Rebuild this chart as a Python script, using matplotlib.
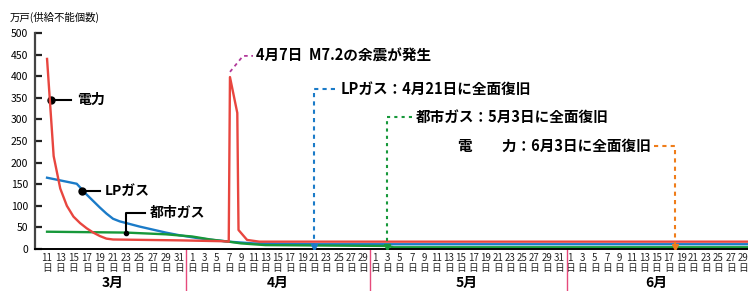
import matplotlib.pyplot as plt

plt.rcParams['font.family'] = ['Noto Sans CJK JP', 'DejaVu Sans']

# x軸: 2日おきの日付ラベル
months = [3, 4, 5, 6]
month_names = ['3月', '4月', '5月', '6月']
label_days = {
    3: list(range(11, 32, 2)),
    4: list(range(1, 30, 2)),
    5: list(range(1, 32, 2)),
    6: list(range(1, 30, 2)),
}

# 供給不能戸数（万戸） 日付は (月, 日)
power_dates = [(3, 11), (3, 12), (3, 13), (3, 14), (3, 15), (3, 16), (3, 17), (3, 18),
               (3, 19), (3, 20), (3, 21), (3, 31), (4, 6), (4, 7), (4, 7.2), (4, 8.4),
               (4, 8.6), (4, 10), (4, 12), (6, 30)]
power_vals = [440, 215, 140, 100, 75, 60, 48, 38, 30, 24, 22, 20, 18, 17, 398, 315,
              44, 21, 17, 17]

lp_dates = [(3, 11), (3, 15.5), (3, 17), (3, 19), (3, 20), (3, 21), (3, 22), (3, 23),
            (3, 25), (3, 27), (3, 29), (3, 31), (4, 2), (4, 5), (4, 7), (4, 9), (4, 11),
            (4, 21), (6, 30)]
lp_vals = [165, 151, 126, 96, 82, 70, 64, 60, 52, 45, 38, 32, 25, 20, 17, 15, 13, 11, 11]

city_dates = [(3, 11), (3, 23), (3, 29), (4, 1), (4, 4), (4, 7), (4, 9), (4, 13),
              (5, 3), (5, 4), (6, 30)]
city_vals = [40, 38, 34, 29, 22, 17, 13, 9, 7, 4, 4]

# 全面復旧の位置
lp_restore = (4, 21)
city_restore = (5, 3)
power_restore = (6, 18)

# 各月の開始位置と2日あたりの幅（元図の目盛り間隔に合わせる）
month_start = {3: 0.0, 4: 11.67, 5: 26.39, 6: 42.08}
month_step = {3: 1.062, 4: 0.983, 5: 0.987, 6: 0.994}
month_sep = [11.18, 25.99, 41.87]


def pos(date):
    m, d = date
    return month_start[m] + (d - label_days[m][0]) / 2 * month_step[m]


RED = '#e8463f'
BLUE = '#1b7bc8'
GREEN = '#17983a'
ORANGE = '#ef7d1a'
PURPLE = '#b2399b'
PINK = '#e64a7b'

fig = plt.figure(figsize=(7.48, 2.91), dpi=100)
ax = fig.add_axes([35 / 748, 42 / 291, 713 / 748, 216 / 291])

ax.plot([pos(d) for d in power_dates], power_vals, color=RED, lw=1.7, zorder=3)
ax.plot([pos(d) for d in lp_dates], lp_vals, color=BLUE, lw=1.7, zorder=2)
ax.plot([pos(d) for d in city_dates], city_vals, color=GREEN, lw=1.7, zorder=2)

ax.set_xlim(-0.97, 56.4)
ax.set_ylim(0, 500)
ax.spines['top'].set_visible(False)
ax.spines['right'].set_visible(False)
ax.spines['left'].set_color('#444444')
ax.spines['left'].set_linewidth(1.6)
ax.spines['bottom'].set_color('black')
ax.spines['bottom'].set_linewidth(1.4)

ax.set_yticks(range(0, 501, 50))
ax.tick_params(axis='y', direction='in', length=5, width=1.6, color='#222222',
               labelsize=7.5, pad=5)

xt = []
xl = []
for m in months:
    for d in label_days[m]:
        xt.append(pos((m, d)))
        xl.append(f'{d}\n日')
ax.set_xticks(xt, labels=xl)
ax.tick_params(axis='x', length=0, labelsize=7, pad=3, labelcolor='#222222')
for t in ax.get_xticklabels():
    t.set_linespacing(1.0)

# 月の区切りと月名
for i, m in enumerate(months):
    first = pos((m, label_days[m][0]))
    last = pos((m, label_days[m][-1]))
    ax.text((first + last) / 2, -0.158, month_names[i], transform=ax.get_xaxis_transform(),
            ha='center', va='center', fontsize=10, fontweight='bold')
for s in month_sep:
    ax.plot([s, s], [0, -0.2], transform=ax.get_xaxis_transform(),
            color=PINK, lw=1, clip_on=False)

fig.text(10 / 748, 1 - 17 / 291, '万戸(供給不能個数)', fontsize=7.5, va='center', ha='left')

# 系列名ラベル
ax.plot([0.32, 1.93], [345, 345], color='black', lw=1.5)
ax.plot(0.32, 345, 'o', color='black', ms=5)
ax.text(2.45, 345, '電力', fontsize=10, fontweight='bold', va='center')

ax.plot([2.79, 4.26], [135, 135], color='black', lw=1.5)
ax.plot(2.79, 135, 'o', color='black', ms=5)
ax.text(4.67, 135, 'LPガス', fontsize=10, fontweight='bold', va='center')

ax.plot([6.36, 6.36, 7.88], [38, 83, 83], color='black', lw=1.5)
ax.plot(6.36, 38, 'o', color='black', ms=3)
ax.text(8.29, 83, '都市ガス', fontsize=10, fontweight='bold', va='center')

# 余震の注記
ax.plot([14.72, 15.77, 16.57], [410, 447, 447], color=PURPLE, lw=1.3, ls=(0, (2, 2)))
ax.text(16.8, 447, '4月7日  M7.2の余震が発生', fontsize=10.5, fontweight='bold', va='center')

# 全面復旧の注記
x = pos(lp_restore)
ax.plot([23.2, x, x], [370, 370, 6], color=BLUE, lw=1.5, ls=(0, (2, 2)), zorder=4)
ax.plot(x, 5, 'v', color=BLUE, ms=4, zorder=4)
ax.text(23.6, 370, 'LPガス：4月21日に全面復旧', fontsize=10.5, fontweight='bold', va='center')

x = pos(city_restore)
ax.plot([29.4, x, x], [306, 306, 6], color=GREEN, lw=1.5, ls=(0, (1.5, 2)), zorder=4)
ax.plot(x, 5, 'v', color=GREEN, ms=4, zorder=4)
ax.text(29.7, 306, '都市ガス：5月3日に全面復旧', fontsize=10.5, fontweight='bold', va='center')

x = pos(power_restore)
ax.plot([48.8, x, x], [239, 239, 6], color=ORANGE, lw=1.5, ls=(0, (2, 2)), zorder=4)
ax.plot(x, 5, 'v', color=ORANGE, ms=4, zorder=4)
ax.text(48.6, 239, '電\u3000\u3000力：6月3日に全面復旧', fontsize=10.5, fontweight='bold',
        va='center', ha='right')

fig.savefig('out.png', dpi=100)
